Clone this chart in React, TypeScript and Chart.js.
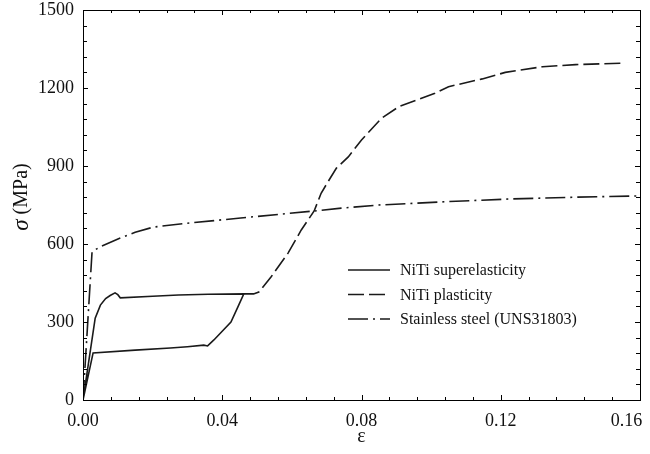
import { useEffect, useRef } from "react";
import { Chart, registerables } from "chart.js";

Chart.register(...registerables);

const FONT = '"Liberation Serif", "Times New Roman", serif';
const INK = "#1a1a1a";

// NiTi superelasticity (closed loading/unloading loop)
const seStrain = [0, 0.0035, 0.005, 0.0065, 0.0078, 0.0092, 0.01, 0.0107, 0.02, 0.0274, 0.036, 0.0462, 0.0445, 0.0425, 0.0376, 0.0358, 0.0347, 0.03, 0.0251, 0.015, 0.0029, 0];
const seStress = [0, 315, 365, 390, 402, 412, 405, 393, 399, 404, 407, 408, 358, 300, 231, 208, 211, 205, 200, 192, 181, 0];

// NiTi plasticity
const plStrain = [0.0462, 0.049, 0.0505, 0.054, 0.0589, 0.0627, 0.0664, 0.0684, 0.0704, 0.0728, 0.0762, 0.08, 0.0858, 0.0907, 0.1011, 0.105, 0.1147, 0.1213, 0.132, 0.1415, 0.1546];
const plStress = [408, 408, 415, 473, 565, 654, 727, 795, 840, 892, 935, 1000, 1084, 1128, 1180, 1205, 1235, 1260, 1282, 1290, 1295];

// Stainless steel (UNS31803)
const ssStrain = [0, 0.0026, 0.005, 0.0107, 0.015, 0.0202, 0.03, 0.0453, 0.0664, 0.0742, 0.085, 0.103, 0.1224, 0.1415, 0.16];
const ssStress = [0, 570, 590, 623, 645, 665, 680, 700, 727, 738, 750, 762, 773, 780, 785];

const seriesLabels = ["NiTi superelasticity", "NiTi plasticity", "Stainless steel (UNS31803)"];
const seriesDash = [[], [16, 5], [20, 5, 2, 5]];

const xMin = 0, xMax = 0.16, xStep = 0.04, xMinor = 0.008;
const yMin = 0, yMax = 1500, yStep = 300, yMinor = 60;

const toPoints = (xs: number[], ys: number[]) => xs.map((x, i) => ({ x, y: ys[i] }));

const framePlugin = {
  id: "frame",
  afterDraw(chart: any) {
    const { ctx, chartArea: a, scales } = chart;
    const sx = scales.x, sy = scales.y;
    ctx.save();
    ctx.strokeStyle = "#000";
    ctx.lineWidth = 1;
    ctx.strokeRect(Math.round(a.left) + 0.5, Math.round(a.top) + 0.5, Math.round(a.right - a.left), Math.round(a.bottom - a.top));
    ctx.beginPath();
    const nx = Math.round((xMax - xMin) / xMinor);
    for (let i = 0; i <= nx; i++) {
      const v = xMin + i * xMinor;
      const px = Math.round(sx.getPixelForValue(v)) + 0.5;
      const len = i % Math.round(xStep / xMinor) === 0 ? 5 : 3;
      ctx.moveTo(px, a.bottom); ctx.lineTo(px, a.bottom - len);
      ctx.moveTo(px, a.top); ctx.lineTo(px, a.top + len);
    }
    const ny = Math.round((yMax - yMin) / yMinor);
    for (let i = 0; i <= ny; i++) {
      const v = yMin + i * yMinor;
      const py = Math.round(sy.getPixelForValue(v)) + 0.5;
      const len = i % Math.round(yStep / yMinor) === 0 ? 5 : 4;
      ctx.moveTo(a.left, py); ctx.lineTo(a.left + len, py);
      ctx.moveTo(a.right, py); ctx.lineTo(a.right - len, py);
    }
    ctx.stroke();

    // legend
    const lx = a.left + 265, ly = a.top + 260, gap = 24.5;
    ctx.font = `16px ${FONT}`;
    ctx.textBaseline = "middle";
    ctx.textAlign = "left";
    seriesLabels.forEach((label, i) => {
      const y = ly + i * gap;
      ctx.strokeStyle = INK;
      ctx.lineWidth = 1.6;
      ctx.setLineDash(seriesDash[i]);
      ctx.beginPath();
      ctx.moveTo(lx, y); ctx.lineTo(lx + 42, y);
      ctx.stroke();
      ctx.setLineDash([]);
      ctx.fillStyle = "#111";
      ctx.fillText(label, lx + 52, y + 1);
    });

    // axis titles
    ctx.fillStyle = "#111";
    ctx.font = `20px ${FONT}`;
    ctx.textAlign = "center";
    ctx.textBaseline = "middle";
    ctx.fillText("ε", (a.left + a.right) / 2, a.bottom + 37);

    ctx.translate(22, (a.top + a.bottom) / 2 - 8);
    ctx.rotate(-Math.PI / 2);
    const s1 = "σ";
    ctx.font = `italic 23px ${FONT}`;
    const w1 = ctx.measureText(s1).width;
    const s2 = " (MPa)";
    ctx.font = `20px ${FONT}`;
    const w2 = ctx.measureText(s2).width;
    const start = -(w1 + w2) / 2;
    ctx.textAlign = "left";
    ctx.font = `italic 23px ${FONT}`;
    ctx.fillText(s1, start, 0);
    ctx.font = `20px ${FONT}`;
    ctx.fillText(s2, start + w1, 0);
    ctx.restore();
  },
};

export default function App() {
  const ref = useRef<HTMLCanvasElement | null>(null);
  useEffect(() => {
    if (!ref.current) return;
    const mk = (label: string, xs: number[], ys: number[], dash: number[]) => ({
      label,
      data: toPoints(xs, ys),
      borderColor: INK,
      borderWidth: 1.6,
      borderDash: dash,
      pointRadius: 0,
      fill: false,
      tension: 0,
    });
    const chart = new Chart(ref.current, {
      type: "line",
      data: {
        datasets: [
          mk(seriesLabels[0], seStrain, seStress, seriesDash[0]),
          mk(seriesLabels[1], plStrain, plStress, seriesDash[1]),
          mk(seriesLabels[2], ssStrain, ssStress, seriesDash[2]),
        ],
      },
      options: {
        responsive: false,
        maintainAspectRatio: false,
        animation: false,
        layout: { padding: { top: 10, right: 10, left: 0, bottom: 0 } },
        plugins: { legend: { display: false }, tooltip: { enabled: false } },
        scales: {
          x: {
            type: "linear",
            min: xMin,
            max: xMax,
            grid: { display: false, drawTicks: false },
            border: { display: false },
            ticks: {
              stepSize: xStep,
              padding: 10,
              maxRotation: 0,
              color: "#111",
              font: { family: FONT, size: 18 },
              callback: (v: any) => {
                const t = Number(v).toFixed(2);
                return Math.abs(Number(v) - xMax) < 1e-9 ? t + "\u2003\u2002" : t;
              },
            },
            afterFit: (s: any) => { s.height = 54; s.paddingLeft = 0; s.paddingRight = 0; },
          },
          y: {
            type: "linear",
            min: yMin,
            max: yMax,
            grid: { display: false, drawTicks: false },
            border: { display: false },
            ticks: {
              stepSize: yStep,
              padding: 9,
              color: "#111",
              font: { family: FONT, size: 18 },
              callback: (v: any) => String(v),
            },
            afterFit: (s: any) => { s.width = 83; s.paddingTop = 0; s.paddingBottom = 0; },
          },
        },
      },
      plugins: [framePlugin],
    });
    return () => chart.destroy();
  }, []);
  return (
    <div style={{ position: "fixed", left: 0, top: 0, width: 650, height: 454, background: "#fff" }}>
      <canvas ref={ref} width={650} height={454} />
    </div>
  );
}
